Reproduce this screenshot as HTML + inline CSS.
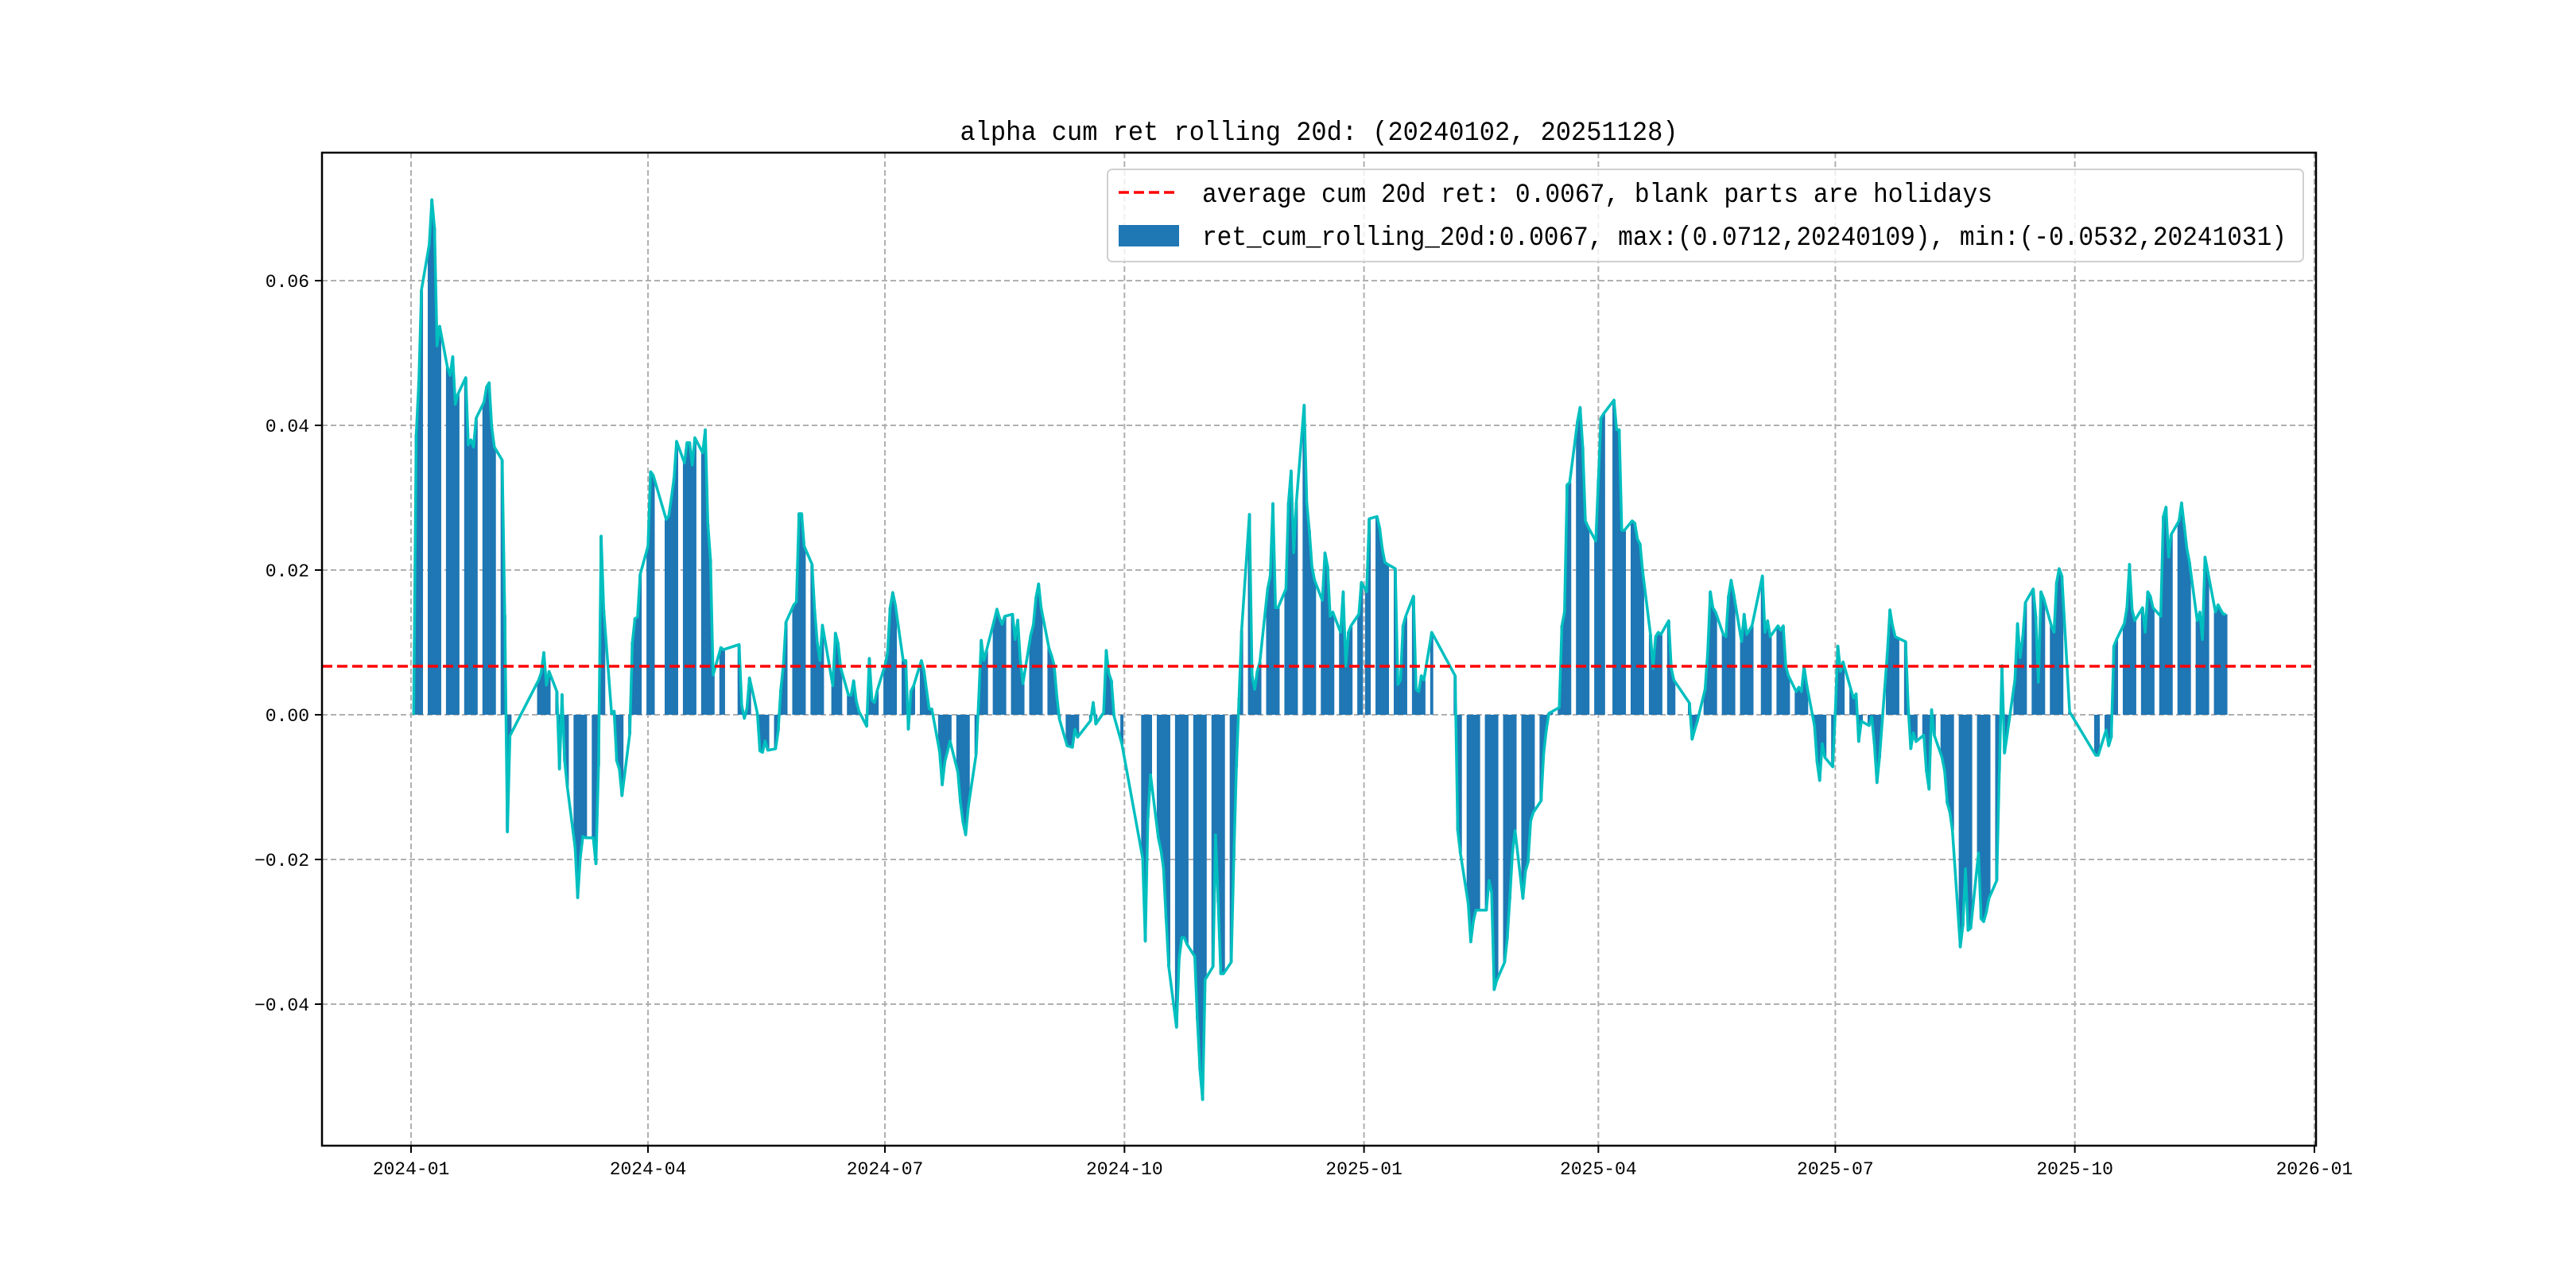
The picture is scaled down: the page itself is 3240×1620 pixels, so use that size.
<!DOCTYPE html>
<html><head><meta charset="utf-8">
<style>
html,body{margin:0;padding:0;background:#fff;}
svg{display:block;}
text{font-family:"Liberation Mono","WenQuanYi Zen Hei",monospace;fill:#000;}
</style></head>
<body>
<svg id="chart" xmlns="http://www.w3.org/2000/svg" width="3240" height="1620" viewBox="0 0 3240 1620">
<rect width="3240" height="1620" fill="#fff"/>
<text x="1659" y="176" text-anchor="middle" font-size="34" textLength="903" lengthAdjust="spacingAndGlyphs">alpha cum ret rolling 20d: (20240102, 20251128)</text>
<g id="grid"></g>
<g id="bars"></g>
<g id="lines"></g>
<g id="axes"></g>
<g id="legend">
<rect x="1393" y="213" width="1504" height="116" rx="6" fill="#fff" fill-opacity="0.8" stroke="#d0d0d0" stroke-width="2"/>
<line x1="1407" y1="242" x2="1483" y2="242" stroke="#ff0000" stroke-width="3.5" stroke-dasharray="13,6"/>
<text x="1512" y="254" font-size="34" textLength="994" lengthAdjust="spacingAndGlyphs">average cum 20d ret: 0.0067, blank parts are holidays</text>
<rect x="1407" y="283" width="76" height="27" fill="#1f77b4"/>
<text x="1512" y="308" font-size="34" textLength="1364" lengthAdjust="spacingAndGlyphs">ret_cum_rolling_20d:0.0067, max:(0.0712,20240109), min:(-0.0532,20241031)</text>
</g>
</svg>
<script>
const dates = ["2024-01-02","2024-01-03","2024-01-04","2024-01-05","2024-01-08","2024-01-09","2024-01-10","2024-01-11","2024-01-12","2024-01-15","2024-01-16","2024-01-17","2024-01-18","2024-01-19","2024-01-22","2024-01-23","2024-01-24","2024-01-25","2024-01-26","2024-01-29","2024-01-30","2024-01-31","2024-02-01","2024-02-02","2024-02-05","2024-02-06","2024-02-07","2024-02-08","2024-02-19","2024-02-20","2024-02-21","2024-02-22","2024-02-23","2024-02-26","2024-02-27","2024-02-28","2024-02-29","2024-03-01","2024-03-04","2024-03-05","2024-03-06","2024-03-07","2024-03-08","2024-03-11","2024-03-12","2024-03-13","2024-03-14","2024-03-15","2024-03-18","2024-03-19","2024-03-20","2024-03-21","2024-03-22","2024-03-25","2024-03-26","2024-03-27","2024-03-28","2024-03-29","2024-04-01","2024-04-02","2024-04-03","2024-04-08","2024-04-09","2024-04-10","2024-04-11","2024-04-12","2024-04-15","2024-04-16","2024-04-17","2024-04-18","2024-04-19","2024-04-22","2024-04-23","2024-04-24","2024-04-25","2024-04-26","2024-04-29","2024-04-30","2024-05-06","2024-05-07","2024-05-08","2024-05-09","2024-05-10","2024-05-13","2024-05-14","2024-05-15","2024-05-16","2024-05-17","2024-05-20","2024-05-21","2024-05-22","2024-05-23","2024-05-24","2024-05-27","2024-05-28","2024-05-29","2024-05-30","2024-05-31","2024-06-03","2024-06-04","2024-06-05","2024-06-06","2024-06-07","2024-06-11","2024-06-12","2024-06-13","2024-06-14","2024-06-17","2024-06-18","2024-06-19","2024-06-20","2024-06-21","2024-06-24","2024-06-25","2024-06-26","2024-06-27","2024-06-28","2024-07-01","2024-07-02","2024-07-03","2024-07-04","2024-07-05","2024-07-08","2024-07-09","2024-07-10","2024-07-11","2024-07-12","2024-07-15","2024-07-16","2024-07-17","2024-07-18","2024-07-19","2024-07-22","2024-07-23","2024-07-24","2024-07-25","2024-07-26","2024-07-29","2024-07-30","2024-07-31","2024-08-01","2024-08-02","2024-08-05","2024-08-06","2024-08-07","2024-08-08","2024-08-09","2024-08-12","2024-08-13","2024-08-14","2024-08-15","2024-08-16","2024-08-19","2024-08-20","2024-08-21","2024-08-22","2024-08-23","2024-08-26","2024-08-27","2024-08-28","2024-08-29","2024-08-30","2024-09-02","2024-09-03","2024-09-04","2024-09-05","2024-09-06","2024-09-09","2024-09-10","2024-09-11","2024-09-12","2024-09-13","2024-09-18","2024-09-19","2024-09-20","2024-09-23","2024-09-24","2024-09-25","2024-09-26","2024-09-27","2024-09-30","2024-10-08","2024-10-09","2024-10-10","2024-10-11","2024-10-14","2024-10-15","2024-10-16","2024-10-17","2024-10-18","2024-10-21","2024-10-22","2024-10-23","2024-10-24","2024-10-25","2024-10-28","2024-10-29","2024-10-30","2024-10-31","2024-11-01","2024-11-04","2024-11-05","2024-11-06","2024-11-07","2024-11-08","2024-11-11","2024-11-12","2024-11-13","2024-11-14","2024-11-15","2024-11-18","2024-11-19","2024-11-20","2024-11-21","2024-11-22","2024-11-25","2024-11-26","2024-11-27","2024-11-28","2024-11-29","2024-12-02","2024-12-03","2024-12-04","2024-12-05","2024-12-06","2024-12-09","2024-12-10","2024-12-11","2024-12-12","2024-12-13","2024-12-16","2024-12-17","2024-12-18","2024-12-19","2024-12-20","2024-12-23","2024-12-24","2024-12-25","2024-12-26","2024-12-27","2024-12-30","2024-12-31","2025-01-02","2025-01-03","2025-01-06","2025-01-07","2025-01-08","2025-01-09","2025-01-10","2025-01-13","2025-01-14","2025-01-15","2025-01-16","2025-01-17","2025-01-20","2025-01-21","2025-01-22","2025-01-23","2025-01-24","2025-01-27","2025-02-05","2025-02-06","2025-02-07","2025-02-10","2025-02-11","2025-02-12","2025-02-13","2025-02-14","2025-02-17","2025-02-18","2025-02-19","2025-02-20","2025-02-21","2025-02-24","2025-02-25","2025-02-26","2025-02-27","2025-02-28","2025-03-03","2025-03-04","2025-03-05","2025-03-06","2025-03-07","2025-03-10","2025-03-11","2025-03-12","2025-03-13","2025-03-14","2025-03-17","2025-03-18","2025-03-19","2025-03-20","2025-03-21","2025-03-24","2025-03-25","2025-03-26","2025-03-27","2025-03-28","2025-03-31","2025-04-01","2025-04-02","2025-04-03","2025-04-07","2025-04-08","2025-04-09","2025-04-10","2025-04-11","2025-04-14","2025-04-15","2025-04-16","2025-04-17","2025-04-18","2025-04-21","2025-04-22","2025-04-23","2025-04-24","2025-04-25","2025-04-28","2025-04-29","2025-04-30","2025-05-06","2025-05-07","2025-05-08","2025-05-09","2025-05-12","2025-05-13","2025-05-14","2025-05-15","2025-05-16","2025-05-19","2025-05-20","2025-05-21","2025-05-22","2025-05-23","2025-05-26","2025-05-27","2025-05-28","2025-05-29","2025-05-30","2025-06-03","2025-06-04","2025-06-05","2025-06-06","2025-06-09","2025-06-10","2025-06-11","2025-06-12","2025-06-13","2025-06-16","2025-06-17","2025-06-18","2025-06-19","2025-06-20","2025-06-23","2025-06-24","2025-06-25","2025-06-26","2025-06-27","2025-06-30","2025-07-01","2025-07-02","2025-07-03","2025-07-04","2025-07-07","2025-07-08","2025-07-09","2025-07-10","2025-07-11","2025-07-14","2025-07-15","2025-07-16","2025-07-17","2025-07-18","2025-07-21","2025-07-22","2025-07-23","2025-07-24","2025-07-25","2025-07-28","2025-07-29","2025-07-30","2025-07-31","2025-08-01","2025-08-04","2025-08-05","2025-08-06","2025-08-07","2025-08-08","2025-08-11","2025-08-12","2025-08-13","2025-08-14","2025-08-15","2025-08-18","2025-08-19","2025-08-20","2025-08-21","2025-08-22","2025-08-25","2025-08-26","2025-08-27","2025-08-28","2025-08-29","2025-09-01","2025-09-02","2025-09-03","2025-09-04","2025-09-05","2025-09-08","2025-09-09","2025-09-10","2025-09-11","2025-09-12","2025-09-15","2025-09-16","2025-09-17","2025-09-18","2025-09-19","2025-09-22","2025-09-23","2025-09-24","2025-09-25","2025-09-26","2025-09-29","2025-09-30","2025-10-09","2025-10-10","2025-10-13","2025-10-14","2025-10-15","2025-10-16","2025-10-17","2025-10-20","2025-10-21","2025-10-22","2025-10-23","2025-10-24","2025-10-27","2025-10-28","2025-10-29","2025-10-30","2025-10-31","2025-11-03","2025-11-04","2025-11-05","2025-11-06","2025-11-07","2025-11-10","2025-11-11","2025-11-12","2025-11-13","2025-11-14","2025-11-17","2025-11-18","2025-11-19","2025-11-20","2025-11-21","2025-11-24","2025-11-25","2025-11-26","2025-11-27","2025-11-28"];
const values = [0.0000,0.0387,0.0460,0.0587,0.0650,0.0712,0.0673,0.0510,0.0537,0.0480,0.0469,0.0495,0.0429,0.0443,0.0466,0.0373,0.0380,0.0370,0.0410,0.0432,0.0453,0.0459,0.0397,0.0370,0.0352,0.0138,-0.0162,-0.0029,0.0048,0.0058,0.0086,0.0041,0.0060,0.0032,-0.0075,0.0028,-0.0064,-0.0099,-0.0183,-0.0253,-0.0197,-0.0168,-0.0170,-0.0170,-0.0206,-0.0071,0.0247,0.0145,0.0002,0.0005,-0.0064,-0.0075,-0.0112,-0.0026,0.0100,0.0133,0.0135,0.0194,0.0233,0.0336,0.0331,0.0270,0.0275,0.0300,0.0327,0.0378,0.0348,0.0376,0.0376,0.0345,0.0383,0.0362,0.0394,0.0264,0.0215,0.0055,0.0093,0.0090,0.0097,0.0013,-0.0005,0.0009,0.0051,0.0002,-0.0050,-0.0052,-0.0036,-0.0049,-0.0047,-0.0022,0.0034,0.0069,0.0128,0.0152,0.0156,0.0278,0.0278,0.0233,0.0208,0.0145,0.0100,0.0075,0.0124,0.0040,0.0113,0.0099,0.0065,0.0027,0.0027,0.0047,0.0019,0.0005,-0.0016,0.0078,0.0020,0.0017,0.0033,0.0068,0.0085,0.0148,0.0169,0.0152,0.0075,0.0075,-0.0020,0.0033,0.0040,0.0075,0.0061,0.0034,0.0008,0.0008,-0.0051,-0.0097,-0.0065,-0.0051,-0.0036,-0.0079,-0.0121,-0.0149,-0.0166,-0.0128,-0.0055,0.0019,0.0103,0.0075,0.0089,0.0131,0.0146,0.0134,0.0125,0.0136,0.0139,0.0104,0.0131,0.0075,0.0043,0.0110,0.0124,0.0162,0.0181,0.0148,0.0092,0.0082,0.0068,0.0026,-0.0006,-0.0043,-0.0044,-0.0045,-0.0020,-0.0031,-0.0008,0.0017,-0.0013,0.0003,0.0089,0.0057,0.0047,-0.0002,-0.0040,-0.0198,-0.0313,-0.0142,-0.0083,-0.0170,-0.0187,-0.0212,-0.0282,-0.0348,-0.0432,-0.0337,-0.0308,-0.0308,-0.0317,-0.0334,-0.0421,-0.0491,-0.0532,-0.0366,-0.0348,-0.0166,-0.0260,-0.0358,-0.0358,-0.0342,-0.0197,-0.0072,0.0023,0.0117,0.0277,0.0054,0.0035,0.0060,0.0073,0.0174,0.0192,0.0292,0.0148,0.0148,0.0174,0.0293,0.0337,0.0224,0.0293,0.0428,0.0293,0.0255,0.0205,0.0186,0.0158,0.0224,0.0205,0.0136,0.0142,0.0114,0.0170,0.0067,0.0114,0.0123,0.0139,0.0183,0.0170,0.0271,0.0274,0.0258,0.0230,0.0211,0.0208,0.0202,0.0042,0.0048,0.0123,0.0136,0.0164,0.0035,0.0032,0.0054,0.0048,0.0114,0.0054,-0.0160,-0.0191,-0.0260,-0.0314,-0.0285,-0.0270,-0.0270,-0.0270,-0.0229,-0.0245,-0.0380,-0.0367,-0.0342,-0.0310,-0.0254,-0.0191,-0.0160,-0.0254,-0.0216,-0.0204,-0.0147,-0.0135,-0.0119,-0.0053,-0.0021,0.0002,0.0004,0.0010,0.0123,0.0142,0.0318,0.0321,0.0406,0.0425,0.0370,0.0268,0.0260,0.0240,0.0325,0.0410,0.0416,0.0435,0.0394,0.0394,0.0255,0.0255,0.0268,0.0265,0.0243,0.0236,0.0199,0.0111,0.0064,0.0108,0.0114,0.0111,0.0130,0.0064,0.0048,0.0016,-0.0034,-0.0021,-0.0009,0.0035,0.0086,0.0170,0.0148,0.0142,0.0111,0.0108,0.0164,0.0186,0.0167,0.0101,0.0139,0.0111,0.0117,0.0123,0.0192,0.0114,0.0130,0.0108,0.0123,0.0117,0.0123,0.0067,0.0054,0.0032,0.0038,0.0032,0.0067,0.0042,-0.0015,-0.0065,-0.0091,-0.0040,-0.0059,-0.0072,0.0004,0.0095,0.0060,0.0073,0.0035,0.0023,0.0029,-0.0037,-0.0009,-0.0015,-0.0003,-0.0040,-0.0094,-0.0059,0.0086,0.0145,0.0123,0.0108,0.0106,0.0101,0.0010,-0.0047,-0.0025,-0.0037,-0.0028,-0.0078,-0.0103,0.0007,-0.0028,-0.0059,-0.0078,-0.0122,-0.0135,-0.0160,-0.0321,-0.0292,-0.0213,-0.0298,-0.0295,-0.0191,-0.0282,-0.0286,-0.0273,-0.0254,-0.0229,-0.0078,0.0068,-0.0053,-0.0028,0.0048,0.0126,0.0079,0.0108,0.0155,0.0174,0.0136,0.0045,0.0170,0.0161,0.0123,0.0114,0.0183,0.0202,0.0192,0.0004,-0.0002,-0.0056,-0.0056,-0.0021,-0.0043,-0.0031,0.0095,0.0104,0.0126,0.0148,0.0208,0.0145,0.0130,0.0148,0.0114,0.0170,0.0164,0.0148,0.0136,0.0274,0.0287,0.0218,0.0249,0.0268,0.0293,0.0262,0.0230,0.0211,0.0130,0.0142,0.0104,0.0218,0.0199,0.0142,0.0152,0.0145,0.0139,0.0139];
const averageValue = 0.0067;
const yTicks = [-0.04,-0.02,0.00,0.02,0.04,0.06];
const yTickLabels = ["\u22120.04","\u22120.02","0.00","0.02","0.04","0.06"];
const xTickDates = ["2024-01-01","2024-04-01","2024-07-01","2024-10-01","2025-01-01","2025-04-01","2025-07-01","2025-10-01","2026-01-01"];
const xTickLabels = ["2024-01","2024-04","2024-07","2024-10","2025-01","2025-04","2025-07","2025-10","2026-01"];

const NS = "http://www.w3.org/2000/svg";
const L = 405, R = 2913, T = 192, B = 1441;
const ORIGIN = Date.UTC(2024,0,1);
function dayOf(s){ const p = s.split("-"); return (Date.UTC(+p[0], +p[1]-1, +p[2]) - ORIGIN)/86400000; }
function xScale(s){ return 517 + dayOf(s) * 3.2749; }
function yScale(v){ return 899 - v / 0.02 * 182; }
function mk(tag, attrs, parent){ const e = document.createElementNS(NS, tag); for (const k in attrs) e.setAttribute(k, attrs[k]); parent.appendChild(e); return e; }

const grid = document.getElementById("grid");
const axes = document.getElementById("axes");
yTicks.forEach((v,i)=>{
  const y = yScale(v);
  const g = mk("line",{x1:L,x2:R,y1:y,y2:y,stroke:"#b0b0b0","stroke-width":2,"stroke-dasharray":"7,4"},grid);
  
  
  const t = mk("line",{x1:L-9,x2:L,y1:y,y2:y,stroke:"#000","stroke-width":2},axes);
  
  
  const lb = mk("text",{x:L-16,y:y+8,"text-anchor":"end","font-size":23},axes);
  lb.textContent = yTickLabels[i];
  
  
});
xTickDates.forEach((d,i)=>{
  const x = xScale(d);
  const g = mk("line",{x1:x,x2:x,y1:T,y2:B,stroke:"#b0b0b0","stroke-width":2,"stroke-dasharray":"7,4"},grid);
  
  
  const t = mk("line",{x1:x,x2:x,y1:B,y2:B+9,stroke:"#000","stroke-width":2},axes);
  
  
  const lb = mk("text",{x:x,y:B+36,"text-anchor":"middle","font-size":23},axes);
  lb.textContent = xTickLabels[i];
  
  
});

const bars = document.getElementById("bars");
const bw = 1.0 * 3.2749;
const y0 = yScale(0);
dates.forEach((d,i)=>{
  const x = xScale(d), y = yScale(values[i]);
  const r = mk("rect",{x:x-bw/2-0.3,y:Math.min(y,y0),width:bw+0.6,height:Math.max(Math.abs(y-y0),0.01),fill:"#1f77b4"},bars);
  
  
});

const lines = document.getElementById("lines");
const pts = dates.map((d,i)=>xScale(d).toFixed(1)+","+yScale(values[i]).toFixed(1)).join(" ");
const pl = mk("polyline",{points:pts,fill:"none",stroke:"#00bfbf","stroke-width":3.5,"stroke-linejoin":"round"},lines);


const ya = yScale(averageValue);
const al = mk("line",{x1:L,x2:R,y1:ya,y2:ya,stroke:"#ff0000","stroke-width":3.5,"stroke-dasharray":"13,6"},lines);



const frame = mk("rect",{x:L,y:T,width:R-L,height:B-T,fill:"none",stroke:"#000","stroke-width":2.5},axes);


</script>
</body></html>
